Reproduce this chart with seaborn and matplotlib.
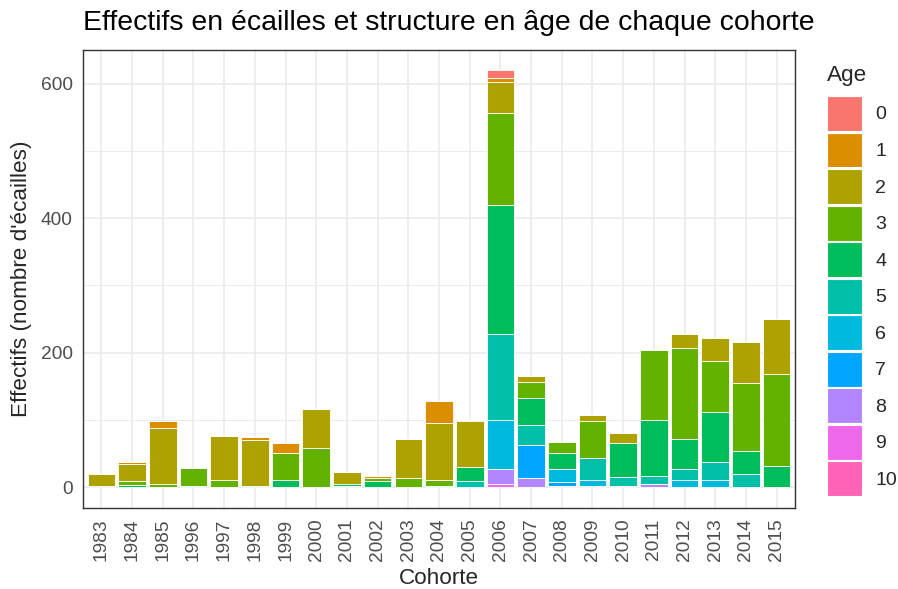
import numpy as np
import pandas as pd
import seaborn as sns
import matplotlib
matplotlib.use("Agg")
import matplotlib.pyplot as plt
from matplotlib.patches import Patch
from matplotlib.ticker import MultipleLocator

cohorts = [1983, 1984, 1985, 1996, 1997, 1998, 1999, 2000, 2001, 2002, 2003, 2004,
           2005, 2006, 2007, 2008, 2009, 2010, 2011, 2012, 2013, 2014, 2015]
age_labels = ["0", "1", "2", "3", "4", "5", "6", "7", "8", "9", "10"]

age0 = [0, 0, 0, 0, 0, 0, 0, 0, 0, 0, 0, 0, 0, 11, 0, 0, 0, 0, 0, 0, 0, 0, 0]
age1 = [0, 3, 10, 0, 0, 4, 14, 0, 0, 2, 0, 32, 2, 7, 0, 0, 0, 0, 0, 0, 0, 0, 0]
age2 = [18, 25, 84, 0, 65, 68, 0, 58, 18, 0, 58, 85, 68, 46, 9, 0, 9, 16, 0, 21, 35, 61, 82]
age3 = [2, 6, 4, 27, 11, 0, 40, 58, 0, 5, 14, 9, 0, 136, 24, 16, 54, 0, 104, 135, 75, 101, 136]
age4 = [0, 3, 0, 2, 0, 2, 11, 0, 2, 9, 0, 0, 21, 193, 40, 24, 0, 50, 84, 45, 75, 35, 32]
age5 = [0, 0, 0, 0, 0, 0, 0, 0, 0, 0, 0, 0, 9, 127, 30, 0, 33, 13, 11, 16, 26, 19, 0]
age6 = [0, 0, 0, 0, 0, 0, 0, 0, 2, 0, 0, 2, 0, 73, 0, 19, 9, 0, 0, 11, 11, 0, 0]
age7 = [0, 0, 0, 0, 0, 0, 0, 0, 0, 0, 0, 0, 0, 0, 50, 6, 0, 0, 0, 0, 0, 0, 0]
age8 = [0, 0, 0, 0, 0, 0, 0, 0, 0, 0, 0, 0, 0, 23, 13, 2, 0, 0, 5, 0, 0, 0, 0]
age9 = [0, 0, 0, 0, 0, 0, 0, 0, 0, 0, 0, 0, 0, 4, 0, 0, 0, 2, 0, 0, 0, 0, 0]
age10 = [0, 0, 0, 0, 0, 0, 0, 0, 0, 0, 0, 0, 0, 0, 0, 0, 2, 0, 0, 0, 0, 0, 0]

ages = [age0, age1, age2, age3, age4, age5, age6, age7, age8, age9, age10]

palette = ["#F8766D", "#DB8E00", "#AEA200", "#64B200", "#00BD5C", "#00C1A7",
           "#00BADE", "#00A6FF", "#B385FF", "#EF67EB", "#FF63B6"]

rows = []
for lab, vals in zip(age_labels, ages):
    for i, v in enumerate(vals):
        if v > 0:
            rows.append({"pos": i, "Age": lab, "n": v})
df = pd.DataFrame(rows)

sns.set_theme(style="white")
plt.rcParams["font.family"] = ["Liberation Sans", "DejaVu Sans"]

W, H = 898, 589
fig = plt.figure(figsize=(W / 100, H / 100), dpi=100)
L, R, T, B = 83, 795, 50, 508
ax = fig.add_axes([L / W, 1 - B / H, (R - L) / W, (B - T) / H])

present = [a for a in age_labels if a in set(df["Age"])]
pal_map = dict(zip(age_labels, palette))
sns.histplot(data=df, x="pos", weights="n", hue="Age", hue_order=present,
             multiple="stack", discrete=True, shrink=0.9,
             palette=pal_map, edgecolor="white", linewidth=0.6, alpha=1,
             legend=False, ax=ax)

ax.set_xlim(-0.6, len(cohorts) - 1 + 0.6)
ax.set_ylim(-31, 650)
ax.set_xticks(range(len(cohorts)))
ax.set_xticklabels([str(c) for c in cohorts], rotation=90)
ax.set_yticks([0, 200, 400, 600])
ax.yaxis.set_minor_locator(MultipleLocator(100))
ax.set_axisbelow(True)
ax.grid(True, which="major", color="#EBEBEB", linewidth=1.2)
ax.grid(True, which="minor", axis="y", color="#EBEBEB", linewidth=0.7)
ax.tick_params(axis="both", which="major", direction="out", length=4.5, width=1,
               color="#333333", labelcolor="#4D4D4D", labelsize=13.8, pad=3)
ax.tick_params(axis="y", which="minor", length=0)
for s in ax.spines.values():
    s.set_color("#333333")
    s.set_linewidth(1.0)
ax.set_xlabel("")
ax.set_ylabel("")

fig.text(L / W, 1 - 23 / H, "Effectifs en écailles et structure en âge de chaque cohorte",
         fontsize=20.4, ha="left", va="center", color="black")
fig.text((L + R) / 2 / W, 1 - 578 / H, "Cohorte", fontsize=16.2, ha="center", va="center")
fig.text(22 / W, 1 - (T + B) / 2 / H, "Effectifs (nombre d'écailles)", fontsize=16.2,
         ha="center", va="center", rotation=90)

fig.text(827 / W, 1 - 75 / H, "Age", fontsize=16.2, ha="left", va="center")
handles = [Patch(facecolor=c, edgecolor="white", linewidth=0.8) for c in palette]
leg = fig.legend(handles, age_labels, loc="upper left",
                 bbox_to_anchor=(827 / W, 1 - 96 / H), frameon=False,
                 fontsize=14, handlelength=1.8, handleheight=2.39,
                 labelspacing=0.08, handletextpad=0.67,
                 borderpad=0, borderaxespad=0)

fig.savefig("out.png", dpi=100)
